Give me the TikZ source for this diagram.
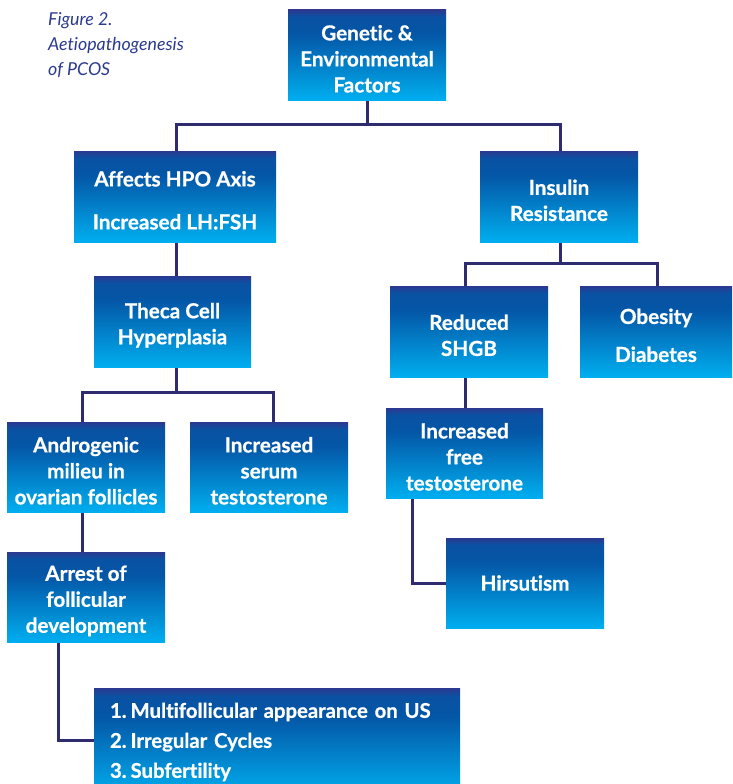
\documentclass[tikz,border=0pt]{standalone}
\usepackage{fontspec}
\setmainfont{Lato}[Ligatures={NoCommon},BoldFeatures={FakeBold=0.7}]
\usetikzlibrary{backgrounds}
\definecolor{cTop}{HTML}{2B3990}
\definecolor{cMid}{HTML}{0456A6}
\definecolor{cBot}{HTML}{00AEEF}
\definecolor{cLine}{HTML}{2E2C6E}
\definecolor{cTitle}{HTML}{2B3A8E}
\pgfdeclareverticalshading{boxshade}{100bp}{color(0bp)=(cBot); color(25bp)=(cBot); color(62bp)=(cMid); color(71bp)=(cMid!85!cTop); color(75bp)=(cTop); color(100bp)=(cTop)}
\newcommand{\fl}{\rule{0pt}{23pt}}
\tikzset{
  pbox/.style={shading=boxshade, inner sep=0pt, text=white, align=center,
    font=\fontsize{20.7}{26}\selectfont\bfseries, minimum width=158pt, minimum height=90pt},
  conn/.style={draw=cLine, line width=3pt, line cap=rect},
}
\begin{document}
\begin{tikzpicture}[x=1pt,y=-1pt]
\useasboundingbox (0,0) rectangle (732,784);
% boxes
\node[pbox] (gen) at (367,55) {\fl Genetic \&\\Environmental\\Factors};
\node[pbox, minimum width=202pt, minimum height=91pt] (hpo) at (175,196.5) {\fl Affects HPO Axis\\[17pt]Increased LH:FSH};
\node[pbox, minimum height=91pt] (ins) at (559,196.5) {\fl Insulin\\Resistance};
\node[pbox, minimum width=157pt, minimum height=91pt] (thc) at (172.5,321.5) {\fl Theca Cell\\Hyperplasia};
\node[pbox, minimum height=91pt] (shg) at (469,331.5) {\fl Reduced\\SHGB};
\node[pbox, minimum width=152pt, minimum height=91pt] (obe) at (656,331.5) {\fl Obesity\\[12pt]Diabetes};
\node[pbox] (and) at (86,467) {\fl Androgenic\\milieu in\\ovarian follicles};
\node[pbox] (ser) at (269,467) {\fl Increased\\serum\\testosterone};
\node[pbox, minimum width=157pt] (fre) at (464.5,453) {\fl Increased\\free\\testosterone};
\node[pbox] (arr) at (86,597) {\fl Arrest of\\follicular\\development};
\node[pbox] (hir) at (525,583) {Hirsutism};
\node[pbox, minimum width=366pt, minimum height=108pt, align=left, text width=334pt,
  font=\fontsize{20.3}{26}\selectfont\bfseries] (lst) at (277,742)
  {1.\hspace{4pt}Multifollicular appearance on US\\[4pt]2.\hspace{4pt}Irregular Cycles\\[4pt]3.\hspace{4pt}Subfertility};
% title
\node[anchor=north west, inner sep=0pt, align=left, text=cTitle,
  font=\fontsize{17.8}{25}\selectfont\itshape] (ttl) at (48,12) {Figure 2.\\Aetiopathogenesis\\of PCOS};
% connectors
\coordinate (fb) at (412,490);
\coordinate (ab) at (58,635);
\begin{scope}[on background layer]
\draw[conn] (gen.south) -- (gen.south |- 0,124);
\draw[conn] (hpo.north -| 176,0) -- (176,124) -- (560,124) -- (ins.north -| 560,0);
\draw[conn] (hpo.south -| 176,0) -- (thc.north -| 176,0);
\draw[conn] (thc.south -| 176,0) -- (176,392);
\draw[conn] (and.north -| 82,0) |- (176,392) -| (ser.north -| 273,0);
\draw[conn] (and.south -| 82,0) -- (arr.north -| 82,0);
\draw[conn] (ab) |- (lst.west |- 0,740);
\draw[conn] (ins.south -| 560,0) -- (560,263);
\draw[conn] (shg.north -| 465,0) |- (560,263) -| (obe.north -| 657,0);
\draw[conn] (shg.south -| 465,0) -- (fre.north -| 465,0);
\draw[conn] (fb) |- (hir.west);
\end{scope}
\end{tikzpicture}
\end{document}
